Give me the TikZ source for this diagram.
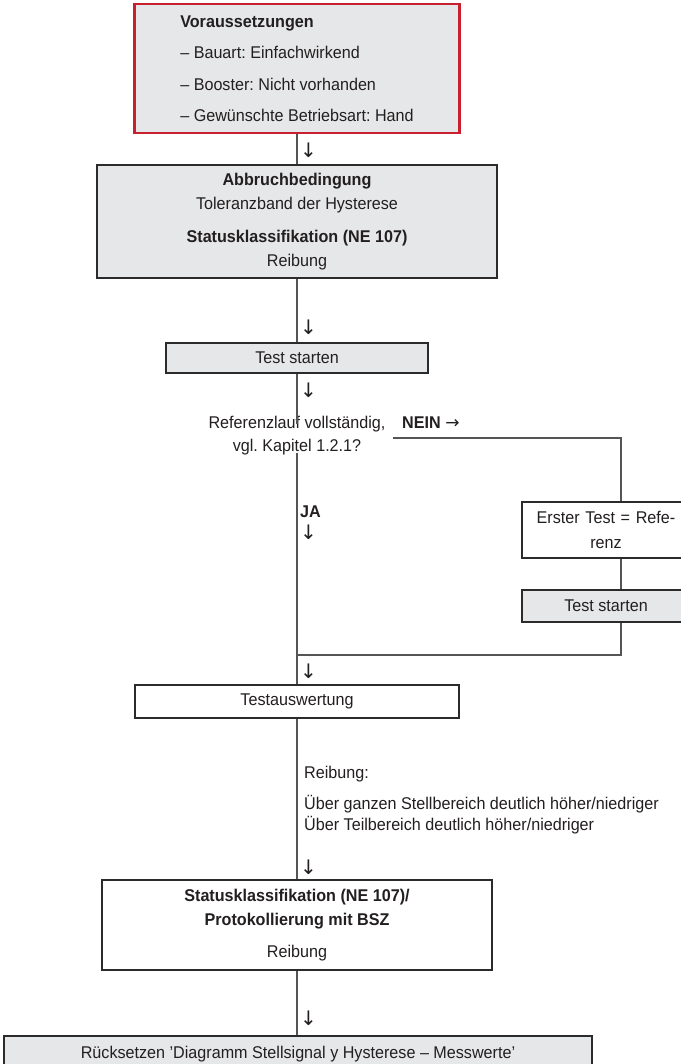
\documentclass[tikz,border=0pt]{standalone}
\usepackage{fontspec}
\setmainfont{Liberation Sans}[FakeStretch=0.95]
\newfontfamily\arrowfont{DejaVu Sans}
\frenchspacing
\definecolor{boxgray}{HTML}{E6E7E8}
\definecolor{boxred}{HTML}{C8202F}
\definecolor{boxline}{HTML}{2B2B2B}
\definecolor{connline}{HTML}{555555}
\definecolor{txt}{HTML}{231F20}
\tikzset{
  flowbox/.style={draw=boxline, line width=2.5pt, inner sep=0pt, align=center, text=txt, fill=white},
  greybox/.style={flowbox, fill=boxgray},
  conn/.style={draw=connline, line width=1.4pt},
  downmark/.style={anchor=west, inner sep=0pt, text=txt, font=\arrowfont\fontsize{20}{20}\selectfont},
  plain/.style={inner sep=0pt, text=txt},
}
\begin{document}
\begin{tikzpicture}[x=1pt,y=-1pt,font=\fontsize{17}{24}\selectfont]
\useasboundingbox (0,0) rectangle (680,1064);
\fill[white] (0,0) rectangle (680,1064);

% boxes
\node[greybox, draw=boxred, minimum width=325pt, minimum height=129pt,
      align=left, font=\fontsize{17}{31.5}\selectfont]
  (pre) at (297,68.5) {\textbf{Voraussetzungen}\\– Bauart: Einfachwirkend\\– Booster: Nicht vorhanden\\– Gewünschte Betriebsart: Hand};

\node[greybox, minimum width=400pt, minimum height=113pt] (abb) at (297,221.5)
  {\textbf{Abbruchbedingung}\\Toleranzband der Hysterese\\[9pt]\textbf{Statusklassifikation (NE 107)}\\Reibung};

\node[greybox, minimum width=262pt, minimum height=30pt] (ts1) at (297,358) {Test starten};

\node[plain, align=center, font=\fontsize{17}{23}\selectfont] (dec) at (297,436)
  {Referenzlauf vollständig,\\vgl. Kapitel 1.2.1?};

\node[plain, anchor=west] (nein) at (402,423) {\textbf{NEIN} {\arrowfont\fontsize{17}{17}\selectfont →}};
\coordinate (n0) at (393,438);
\coordinate (n1) at (621,438);

\node[flowbox, minimum width=168pt, minimum height=56pt, text width=150pt,
      font=\fontsize{17}{25}\selectfont] (er) at (606,530) {Erster Test = Refe-\\renz};
\node[greybox, minimum width=168pt, minimum height=32pt] (ts2) at (606,606) {Test starten};
\coordinate (j) at (621,655);
\coordinate (jm) at (297,655);

\node[plain, anchor=west] (ja) at (300,512) {\textbf{JA}};

\node[flowbox, minimum width=324pt, minimum height=33pt] (ta) at (297,701.5) {Testauswertung};

\node[plain, anchor=west, align=left, font=\fontsize{17}{20.5}\selectfont] (rt) at (304,800)
  {Reibung:\\[11pt]Über ganzen Stellbereich deutlich höher/niedriger\\Über Teilbereich deutlich höher/niedriger};

\node[flowbox, minimum width=390pt, minimum height=90pt] (st) at (297,925)
  {\textbf{Statusklassifikation (NE 107)/}\\\textbf{Protokollierung mit BSZ}\\[8pt]Reibung};

\node[greybox, minimum width=588pt, minimum height=36pt] (rs) at (298,1054)
  {Rücksetzen 'Diagramm Stellsignal y Hysterese – Messwerte'};

% down marks
\node[downmark] (d1) at (300,150) {↓};
\node[downmark] (d2) at (300,327) {↓};
\node[downmark] (d3) at (300,390) {↓};
\node[downmark] (d4) at (300,532) {↓};
\node[downmark] (d5) at (300,671) {↓};
\node[downmark] (d6) at (300,867) {↓};
\node[downmark] (d7) at (300,1018) {↓};

% connectors
\draw[conn] (pre.south) -- (abb.north);
\draw[conn] (abb.south) -- (ts1.north);
\draw[conn] (ts1.south) -- ([yshift=-8pt]dec.north);
\draw[conn] ([yshift=3pt]dec.south) -- (ta.north);
\draw[conn] (n0) -- (n1) -- (n1 |- er.north);
\draw[conn] (n1 |- er.south) -- (n1 |- ts2.north);
\draw[conn] (n1 |- ts2.south) -- (j) -- (jm);
\draw[conn] (ta.south) -- (st.north);
\draw[conn] (st.south) -- (st.south |- rs.north);
\end{tikzpicture}
\end{document}
